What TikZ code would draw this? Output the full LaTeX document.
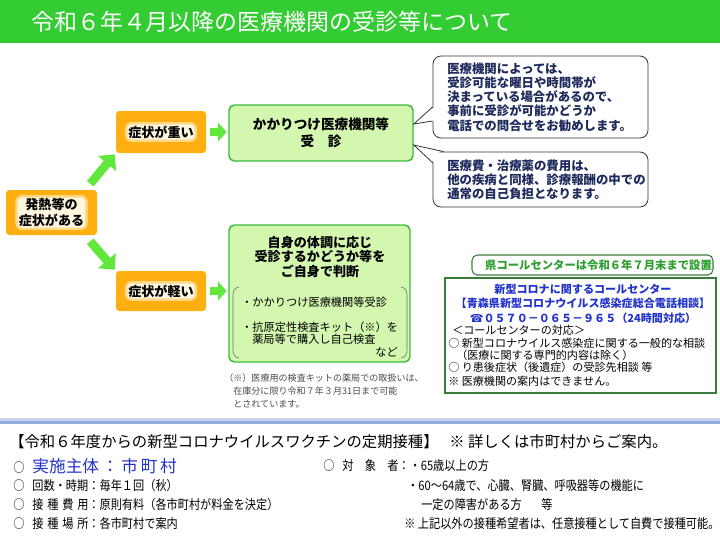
\documentclass[tikz,border=0pt]{standalone}
\usepackage{fontspec}
\usepackage{tikz}
\usetikzlibrary{calc,arrows.meta}
\setmainfont{Noto Sans CJK JP}
\newfontfamily\narrowfont[FakeStretch=0.86]{Noto Sans CJK JP}
\newfontfamily\phonefont{DejaVu Sans}
\definecolor{titlegreen}{HTML}{33CC33}
\definecolor{signorange}{HTML}{FFAF0F}
\definecolor{glowsoft}{HTML}{FFD98A}
\definecolor{glowcream}{HTML}{FFF6E0}
\definecolor{arrowgreen}{HTML}{62E83C}
\definecolor{boxgreen}{HTML}{D4F7B0}
\definecolor{edgegreen}{HTML}{3DBB3D}
\definecolor{notenavy}{HTML}{1F2A5C}
\definecolor{callblue}{HTML}{2233CC}
\definecolor{darkgreen}{HTML}{3B7B3B}
\definecolor{textgreen}{HTML}{2E9E2E}
\definecolor{rulelight}{HTML}{C5D3EC}
\definecolor{ruleblue}{HTML}{8FAADC}
\definecolor{notegray}{HTML}{4A4A4A}

\begin{document}
\begin{tikzpicture}[x=0.75pt,y=-0.75pt,
  signbox/.style={fill=signorange, rounded corners=2.5pt, inner sep=0pt},
  glowhalo/.style={fill=glowsoft, rounded corners=5pt, inner sep=2.6pt, align=center,
    font=\fontsize{9.8}{11.5}\selectfont\bfseries, text opacity=0},
  glowtext/.style={fill=glowcream, rounded corners=3pt, inner sep=0.8pt, align=center,
    font=\fontsize{9.8}{11.5}\selectfont\bfseries},
  greenbox/.style={fill=boxgreen, draw=edgegreen, line width=1.1pt, rounded corners=4pt, inner sep=0pt},
  bigarrow/.style={arrowgreen, line width=6.5pt, -{Triangle[width=17pt,length=9pt]}},
  flatarrow/.style={arrowgreen, line width=5.5pt, -{Triangle[width=14pt,length=6.5pt]}, shorten >=1.2pt},
  callout/.style={fill=white, draw=black!80, line width=0.6pt, rounded corners=6pt, inner sep=0pt},
  calloutline/.style={draw=black!80, line width=0.6pt, line join=miter},
  calloutext/.style={anchor=west, align=left, inner sep=0pt, text=notenavy,
    font=\fontsize{9.3}{10.7}\selectfont\bfseries},
  bullettext/.style={inner sep=0pt, font=\fontsize{8.4}{10}\selectfont},
  bracketline/.style={draw=black!55, line width=0.5pt},
  jnote/.style={anchor=west, inner sep=0pt, text=notegray, font=\fontsize{6.8}{8}\selectfont},
  bluehead/.style={align=center, inner sep=0pt, text=callblue, font=\fontsize{8.3}{10.9}\selectfont\bfseries},
  calltext/.style={anchor=west, inner sep=0pt, font=\fontsize{8.3}{10}\selectfont},
  rowtext/.style={anchor=west, inner sep=0pt, font=\narrowfont\fontsize{9.75}{11}\selectfont}
]
\useasboundingbox (0,0) rectangle (720,540);

% Title Bar
\fill[titlegreen] (0,0) rectangle (720,43);
\node[anchor=west, inner sep=0pt, text=white, font=\fontsize{17.2}{19}\selectfont] (title)
      at (31,22) {令和６年４月以降の医療機関の受診等について};

% Orange Symptom Signs with soft glow
\node[signbox, minimum width=68.25pt, minimum height=33.75pt] (fever) at (51.5,212.5) {};
\node[signbox, minimum width=67.5pt, minimum height=31.5pt] (heavy) at (161,132) {};
\node[signbox, minimum width=67.5pt, minimum height=30pt] (light) at (161,291) {};
\foreach \sign/\signtext in {fever/{発熱等の\\症状がある}, heavy/{症状が重い}, light/{症状が軽い}}{
  \node[glowhalo] at (\sign) {\signtext};
  \node[glowtext] (\sign text) at (\sign) {\signtext};
}

% Green Result Boxes
\node[greenbox, minimum width=138pt, minimum height=42pt, align=center,
      font=\fontsize{10.2}{12.5}\selectfont\bfseries] (visit) at (321,133) {かかりつけ医療機関等\\受　診};
\node[greenbox, minimum width=135.75pt, minimum height=102.75pt] (judge) at (319.5,293.5) {};
\node[align=center, inner sep=0pt, font=\fontsize{9.8}{10.6}\selectfont\bfseries] (judgehead)
      at (320,257) {自身の体調に応じ\\受診するかどうか等を\\ご自身で判断};

% Bracketed choices
\draw[bracketline] (239,287) .. controls (234,288) and (233,291) .. (233,296) -- (233,349)
      .. controls (233,354) and (234,357) .. (239,358);
\draw[bracketline] (401,287) .. controls (406,288) and (407,291) .. (407,296) -- (407,349)
      .. controls (407,354) and (406,357) .. (401,358);
\node[bullettext, anchor=west] (bullet1) at (241,302) {・かかりつけ医療機関等受診};
\node[bullettext, anchor=west] (bullet2) at (241,327) {・抗原定性検査キット（※）を};
\node[bullettext, anchor=west] (bullet3) at (252,339) {薬局等で購入し自己検査};
\node[bullettext, anchor=east] (bullet4) at (398,352) {など};

% Footnote under the box
\node[jnote] (jnote1) at (224,378) {（※）医療用の検査キットの薬局での取扱いは、};
\node[jnote] (jnote2) at (233,391) {在庫分に限り令和７年３月31日まで可能};
\node[jnote] (jnote3) at (233,404) {とされています。};

% Flow Arrows
\draw[bigarrow] ($(fever.north east)+(-7,-6)$) -- ($(heavy.south west)+(-1,1)$);
\draw[bigarrow] ($(fever.south east)+(-7,6)$) -- ($(light.north west)+(-1,-1)$);
\draw[flatarrow] ($(heavy.east)+(4,0)$) -- (heavy.east -| visit.west);
\draw[flatarrow] ($(light.east)+(4,0)$) -- (light.east -| judge.west);

% Speech Callouts
\node[callout, minimum width=161.25pt, minimum height=61.5pt] (note1) at (540.5,97) {};
\node[callout, minimum width=161.25pt, minimum height=41.25pt] (note2) at (540.5,179.5) {};
\coordinate (tip1) at ($(visit.east)+(0,-9)$);
\coordinate (n1a) at ($(note1.west)+(0,10)$);
\coordinate (n1b) at ($(note1.west)+(0,24)$);
\fill[white] (tip1) -- ($(n1a)+(2,0)$) -- ($(n1b)+(2,0)$) -- cycle;
\draw[calloutline] (n1a) -- (tip1) -- (n1b);
\coordinate (tip2) at ($(visit.east)+(0,12)$);
\coordinate (n2a) at ($(note2.north west)+(11,0)$);
\coordinate (n2b) at ($(note2.north west)+(0,11)$);
\fill[white] (tip2) -- ($(n2a)+(0,2)$) -- ($(n2b)+(2,0)$) -- cycle;
\draw[calloutline] (n2a) -- (tip2) -- (n2b);
\node[calloutext] (note1text) at (447,97) {医療機関によっては、\\受診可能な曜日や時間帯が\\決まっている場合があるので、\\事前に受診が可能かどうか\\電話での問合せをお勧めします。};
\node[calloutext] (note2text) at (447,180) {医療費・治療薬の費用は、\\他の疾病と同様、診療報酬の中での\\通常の自己負担となります。};

% Call Center Panel
\node[draw=darkgreen, line width=0.8pt, rounded corners=4pt, fill=white, minimum width=180.75pt,
      minimum height=15pt, inner sep=0pt, text=textgreen, font=\fontsize{8.5}{10}\selectfont\bfseries]
      (notice) at (592.5,265) {\hspace{9pt}県コールセンターは令和６年７月末まで設置};
\node[draw=darkgreen, line width=1.1pt, minimum width=203.25pt, minimum height=86.25pt, inner sep=0pt]
      (callbox) at (580.5,335.5) {};
\node[bluehead] (callhead) at (583,303.5) {新型コロナに関するコールセンター\\【青森県新型コロナウイルス感染症総合電話相談】\\{\phonefont ☎}０５７０－０６５－９６５（24時間対応）};
\foreach [count=\i] \ly/\lx/\ltext in {330/452/＜コールセンターの対応＞,
    343/448/○ 新型コロナウイルス感染症に関する一般的な相談,
    355/456/（医療に関する専門的内容は除く）,
    367/448/○ り患後症状（後遺症）の受診先相談\ 等,
    381/448/※ 医療機関の案内はできません。}{
  \node[calltext] (callline\i) at (\lx,\ly) {\ltext};
}

% Divider Rule
\draw[rulelight, line width=1.6pt] (0,419.5) -- (720,419.5);
\draw[ruleblue, line width=2pt] (0,422.5) -- (720,422.5);

% Vaccination Summary
\node[anchor=west, inner sep=0pt, font=\fontsize{11.5}{13}\selectfont] (vaxhead)
      at (9,442) {【令和６年度からの新型コロナウイルスワクチンの定期接種】\hspace{0.7em}※ 詳しくは市町村からご案内。};
\node[anchor=west, inner sep=0pt] (vaxbody) at (13,466)
      {{\narrowfont\fontsize{9.75}{11}\selectfont ○}\hspace{6pt}{\color{callblue}\fontsize{12.5}{14}\selectfont 実施主体\,：\,市\,町\,村}};
\node[rowtext] (row1) at (13,486) {○\hspace{6pt}\makebox[42pt][l]{回数・時期}：毎年１回（秋）};
\node[rowtext] (row2) at (13,505) {○\hspace{6pt}\makebox[42pt][s]{接\hfill 種\hfill 費\hfill 用}：原則有料（各市町村が料金を決定）};
\node[rowtext] (row3) at (13,524) {○\hspace{6pt}\makebox[42pt][s]{接\hfill 種\hfill 場\hfill 所}：各市町村で案内};
\node[rowtext] (target1) at (323,466) {○\hspace{6pt}\makebox[42pt][s]{対\hfill 象\hfill 者}：・65歳以上の方};
\node[rowtext] (target2) at (407,486) {・60～64歳で、心臓、腎臓、呼吸器等の機能に};
\node[rowtext] (target3) at (421,505) {一定の障害がある方\hspace{1.5em}等};
\node[rowtext] (aside) at (404,524) {※ 上記以外の接種希望者は、任意接種として自費で接種可能。};
\end{tikzpicture}
\end{document}
